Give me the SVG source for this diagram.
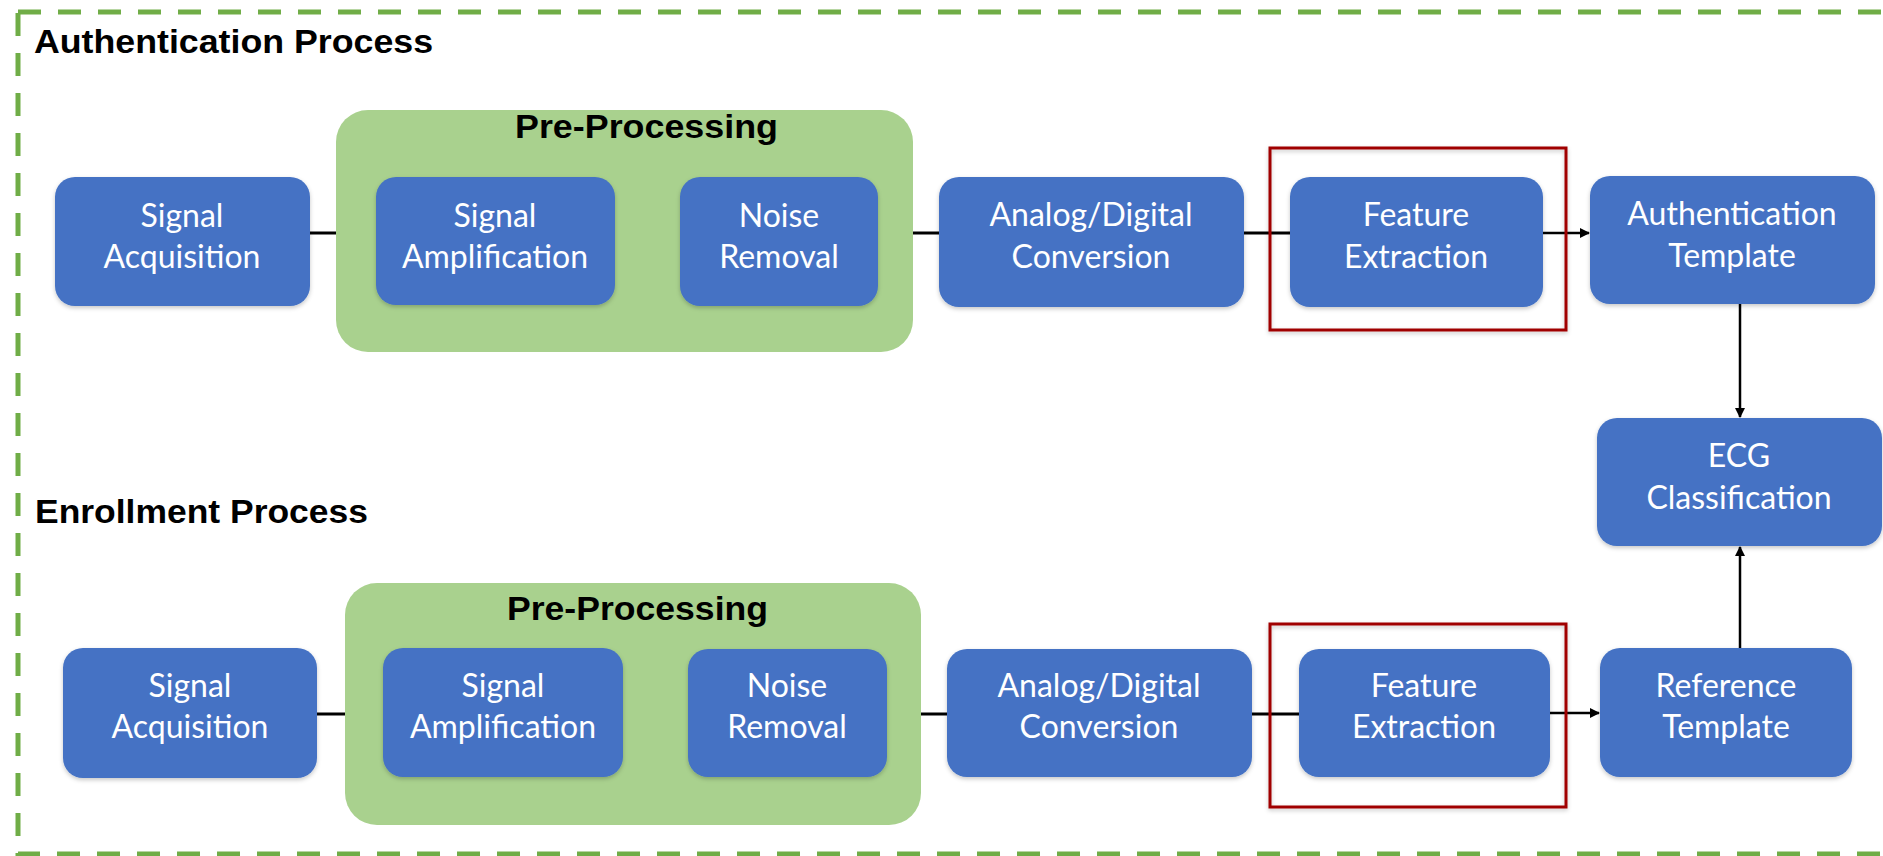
<svg xmlns="http://www.w3.org/2000/svg" width="1883" height="856" viewBox="0 0 1883 856">
<defs>
<filter id="sh" x="-10%" y="-10%" width="120%" height="130%">
<feDropShadow dx="0" dy="2" stdDeviation="2" flood-color="#000" flood-opacity="0.22"/>
</filter>
<marker id="ah" viewBox="0 0 10 10" refX="9" refY="5" markerWidth="4" markerHeight="4" orient="auto" markerUnits="strokeWidth">
<path d="M0,0 L10,5 L0,10 Z" fill="#000"/>
</marker>
</defs>
<style>
.box{fill:#4472C4;}
.grp{fill:#A9D18E;}
.red{fill:none;stroke:#A00000;stroke-width:3;}
.lbl{font-family:Lato,"Liberation Sans",sans-serif;font-size:32px;fill:#fff;text-anchor:middle;}
.ttl{font-family:"Liberation Sans",Arial,sans-serif;font-weight:bold;font-size:33px;fill:#000;}
.con{stroke:#000;stroke-width:3;fill:none;}
.arr{stroke:#000;stroke-width:2.5;fill:none;marker-end:url(#ah);}
</style>
<rect x="0" y="0" width="1883" height="856" fill="#fff"/>
<rect x="18" y="12" width="1890" height="842" fill="none" stroke="#70AD47" stroke-width="5" stroke-dasharray="23 17"/>
<text class="ttl" x="34" y="53" textLength="399" lengthAdjust="spacingAndGlyphs">Authentication Process</text>
<text class="ttl" x="35" y="523" textLength="333" lengthAdjust="spacingAndGlyphs">Enrollment Process</text>

<g id="connectors">
<line class="con" x1="310" y1="233" x2="336" y2="233"/>
<line class="con" x1="913" y1="233" x2="939" y2="233"/>
<line class="con" x1="1244" y1="233" x2="1290" y2="233"/>
<line class="arr" x1="1543" y1="233" x2="1589" y2="233"/>
<line class="arr" x1="1740" y1="304" x2="1740" y2="417"/>
<line class="con" x1="317" y1="714" x2="383" y2="714"/>
<line class="con" x1="623" y1="714" x2="688" y2="714"/>
<line class="con" x1="887" y1="714" x2="947" y2="714"/>
<line class="con" x1="1252" y1="714" x2="1299" y2="714"/>
<line class="arr" x1="1550" y1="713" x2="1599" y2="713"/>
<line class="arr" x1="1740" y1="648" x2="1740" y2="547"/>
</g>

<g id="preproc-auth">
<rect class="grp" x="336" y="110" width="577" height="242" rx="32"/>
<text class="ttl" x="515" y="138" font-size="31" textLength="263" lengthAdjust="spacingAndGlyphs">Pre-Processing</text>
</g>
<g id="preproc-enroll">
<rect class="grp" x="345" y="583" width="576" height="242" rx="32"/>
<text class="ttl" x="507" y="620" font-size="31" textLength="261" lengthAdjust="spacingAndGlyphs">Pre-Processing</text>
</g>

<g id="auth-signal-acq"><rect class="box" filter="url(#sh)" x="55" y="177" width="255" height="129" rx="20"/><text class="lbl" x="182" y="227">Signal</text><text class="lbl" x="182" y="268">Acquisition</text></g>
<g id="auth-signal-amp"><rect class="box" filter="url(#sh)" x="376" y="177" width="239" height="128" rx="20"/><text class="lbl" x="495" y="227">Signal</text><text class="lbl" x="495" y="268">Amplification</text></g>
<g id="auth-noise"><rect class="box" filter="url(#sh)" x="680" y="177" width="198" height="129" rx="20"/><text class="lbl" x="779" y="227">Noise</text><text class="lbl" x="779" y="268">Removal</text></g>
<g id="auth-adc"><rect class="box" filter="url(#sh)" x="939" y="177" width="305" height="130" rx="20"/><text class="lbl" x="1091" y="226">Analog/Digital</text><text class="lbl" x="1091" y="268">Conversion</text></g>
<g id="auth-feature"><rect class="box" filter="url(#sh)" x="1290" y="177" width="253" height="130" rx="20"/><text class="lbl" x="1416" y="226">Feature</text><text class="lbl" x="1416" y="268">Extraction</text></g>
<g id="auth-highlight"><rect class="red" filter="url(#sh)" x="1270" y="148" width="296" height="182"/></g>
<g id="auth-template"><rect class="box" filter="url(#sh)" x="1590" y="176" width="285" height="128" rx="20"/><text class="lbl" x="1732" y="225">Authentication</text><text class="lbl" x="1732" y="267">Template</text></g>
<g id="ecg-class"><rect class="box" filter="url(#sh)" x="1597" y="418" width="285" height="128" rx="20"/><text class="lbl" x="1739" y="467">ECG</text><text class="lbl" x="1739" y="509">Classification</text></g>

<g id="enr-signal-acq"><rect class="box" filter="url(#sh)" x="63" y="648" width="254" height="130" rx="20"/><text class="lbl" x="190" y="697">Signal</text><text class="lbl" x="190" y="738">Acquisition</text></g>
<g id="enr-signal-amp"><rect class="box" filter="url(#sh)" x="383" y="648" width="240" height="129" rx="20"/><text class="lbl" x="503" y="697">Signal</text><text class="lbl" x="503" y="738">Amplification</text></g>
<g id="enr-noise"><rect class="box" filter="url(#sh)" x="688" y="649" width="199" height="128" rx="20"/><text class="lbl" x="787" y="697">Noise</text><text class="lbl" x="787" y="738">Removal</text></g>
<g id="enr-adc"><rect class="box" filter="url(#sh)" x="947" y="649" width="305" height="128" rx="20"/><text class="lbl" x="1099" y="697">Analog/Digital</text><text class="lbl" x="1099" y="738">Conversion</text></g>
<g id="enr-feature"><rect class="box" filter="url(#sh)" x="1299" y="649" width="251" height="128" rx="20"/><text class="lbl" x="1424" y="697">Feature</text><text class="lbl" x="1424" y="738">Extraction</text></g>
<g id="enr-highlight"><rect class="red" filter="url(#sh)" x="1270" y="624" width="296" height="183"/></g>
<g id="ref-template"><rect class="box" filter="url(#sh)" x="1600" y="648" width="252" height="129" rx="20"/><text class="lbl" x="1726" y="697">Reference</text><text class="lbl" x="1726" y="738">Template</text></g>
</svg>
